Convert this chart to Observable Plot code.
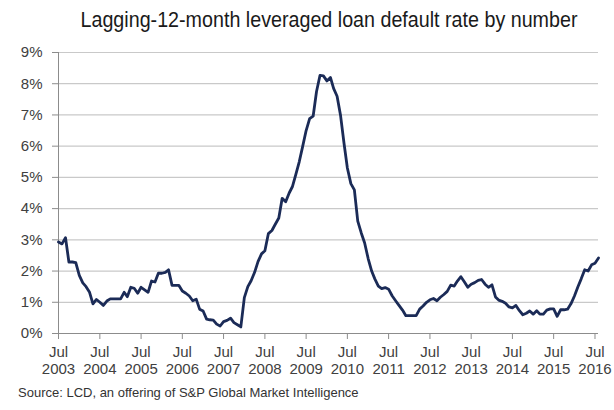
<!DOCTYPE html>
<html>
<head>
<meta charset="utf-8">
<script src="https://cdn.jsdelivr.net/npm/d3@7"></script>
<script src="https://cdn.jsdelivr.net/npm/@observablehq/plot@0.6"></script>
<style>
  html, body { margin: 0; padding: 0; background: #fff; }
  #wrap { width: 614px; height: 410px; position: relative; font-family: "Liberation Sans", Arial, sans-serif; }
  #titlebar { height: 40px; position: relative; }
  #title { position: absolute; left: 329px; top: 7px; white-space: nowrap; font-size: 22px; line-height: 26px; color: #1a1a1a;
           transform: translateX(-50%) scaleX(0.895); transform-origin: center; }
  #caption { position: absolute; left: 18px; top: 385px; font-size: 13px; color: #333; }
</style>
</head>
<body>
<div id="wrap">
  <div id="titlebar"><div id="title">Lagging-12-month leveraged loan default rate by number</div></div>
  <div id="chart"></div>
  <div id="caption">Source: LCD, an offering of S&amp;P Global Market Intelligence</div>
</div>
<script>
// First month of the series: July 2003 (monthly observations)
const startYear = 2003;
const startMonth = 6; // July (0-based)

// Default rate (%) by month
const rates2003 = [2.93, 2.87, 3.07, 2.29, 2.29, 2.27];                                   // Jul–Dec 2003
const rates2004 = [1.86, 1.62, 1.50, 1.32, 0.95, 1.09, 1.00, 0.90, 1.04, 1.11, 1.11, 1.11];
const rates2005 = [1.11, 1.32, 1.18, 1.48, 1.45, 1.29, 1.48, 1.40, 1.32, 1.68, 1.65, 1.93];
const rates2006 = [1.93, 1.96, 2.04, 1.54, 1.54, 1.54, 1.36, 1.29, 1.20, 1.05, 1.10, 0.78];
const rates2007 = [0.72, 0.46, 0.44, 0.43, 0.30, 0.24, 0.38, 0.42, 0.49, 0.35, 0.28, 0.21];
const rates2008 = [1.15, 1.50, 1.69, 1.96, 2.30, 2.55, 2.65, 3.20, 3.30, 3.50, 3.70, 4.33];
const rates2009 = [4.22, 4.50, 4.70, 5.10, 5.50, 6.00, 6.50, 6.88, 6.96, 7.75, 8.27, 8.25];
const rates2010 = [8.09, 8.20, 7.85, 7.60, 7.00, 6.10, 5.30, 4.80, 4.60, 3.60, 3.22, 2.90];
const rates2011 = [2.40, 2.00, 1.75, 1.52, 1.44, 1.47, 1.42, 1.21, 1.05, 0.90, 0.75, 0.57];
const rates2012 = [0.57, 0.57, 0.57, 0.78, 0.88, 1.00, 1.08, 1.12, 1.05, 1.16, 1.25, 1.35];
const rates2013 = [1.55, 1.52, 1.68, 1.82, 1.66, 1.48, 1.58, 1.63, 1.70, 1.73, 1.58, 1.48];
const rates2014 = [1.56, 1.17, 1.07, 1.03, 0.97, 0.85, 0.82, 0.90, 0.73, 0.60, 0.65, 0.72];
const rates2015 = [0.62, 0.73, 0.62, 0.62, 0.75, 0.79, 0.79, 0.55, 0.76, 0.76, 0.78, 0.95];
const rates2016 = [1.20, 1.50, 1.75, 2.04, 2.00, 2.20, 2.25, 2.42];                       // Jan–Aug 2016

// Axis tick labels
const tickYears = [2003, 2004, 2005, 2006, 2007, 2008, 2009, 2010, 2011, 2012, 2013, 2014, 2015, 2016];
const tickMonthLabel = "Jul";
const yTicks = [0, 1, 2, 3, 4, 5, 6, 7, 8, 9];

const allRates = [].concat(rates2003, rates2004, rates2005, rates2006, rates2007, rates2008, rates2009,
  rates2010, rates2011, rates2012, rates2013, rates2014, rates2015, rates2016);
const data = allRates.map((v, i) => ({ date: new Date(Date.UTC(startYear, startMonth + i, 1)), rate: v }));
const tickDates = tickYears.map(y => new Date(Date.UTC(y, 6, 1)));

const fmtYear = d => String(d.getUTCFullYear());

const chart = Plot.plot({
  width: 614,
  height: 345,
  marginTop: 12,
  marginLeft: 58,
  marginRight: 16,
  marginBottom: 52,
  style: { fontFamily: "'Liberation Sans', Arial, sans-serif", fontSize: "15px", color: "#404040", background: "#fff" },
  x: { type: "utc", domain: [new Date(Date.UTC(2003, 6, 1)), new Date(Date.UTC(2016, 7, 1))] },
  y: { domain: [0, 9] },
  marks: [
    Plot.gridY(yTicks, { stroke: "#c9c9c9", strokeOpacity: 1, strokeWidth: 1.2 }),
    Plot.ruleX([0], { x: () => new Date(Date.UTC(2003, 6, 1)), stroke: "#8c8c8c" }),
    Plot.axisY(yTicks, { tickFormat: d => d + "%", tickSize: 6, tickPadding: 10, stroke: "#8c8c8c", label: null, fill: "#404040" }),
    Plot.ruleY([0], { stroke: "#8c8c8c" }),
    Plot.axisX(tickDates, { tickFormat: () => tickMonthLabel, tickSize: 6, tickPadding: 7, stroke: "#8c8c8c", label: null, fill: "#404040" }),
    Plot.axisX(tickDates, { tickFormat: fmtYear, tickSize: 0, tickPadding: 30, label: null, fill: "#404040" }),
    Plot.line(data, { x: "date", y: "rate", stroke: "#1b2b57", strokeWidth: 2.8, strokeLinejoin: "round", curve: "linear" })
  ]
});
document.getElementById("chart").appendChild(chart);
</script>
</body>
</html>
